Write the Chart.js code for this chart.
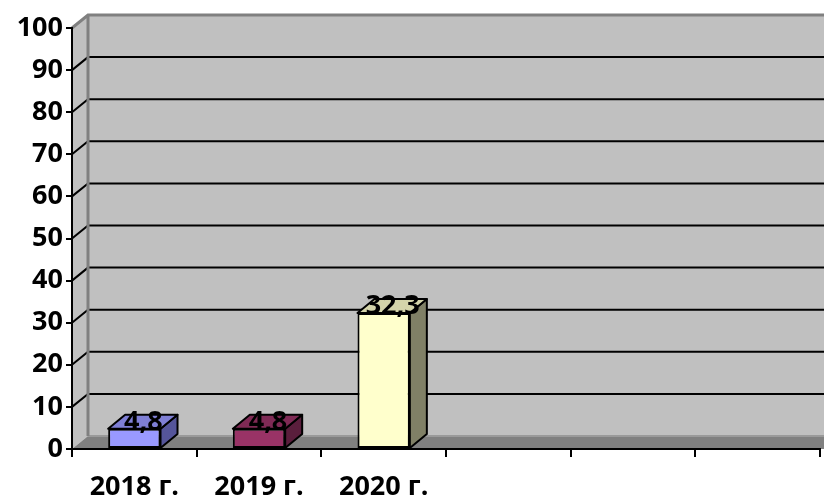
<!DOCTYPE html>
<html>
<head>
<meta charset="utf-8">
<script src="https://cdn.jsdelivr.net/npm/chart.js@4.4.0/dist/chart.umd.min.js"></script>
<style>
  html, body { margin: 0; padding: 0; background: #fff; }
  #wrap { width: 824px; height: 499px; }
</style>
</head>
<body>
<div id="wrap"><canvas id="chart" width="824" height="499"></canvas></div>
<script>
const categories = ['2018 г.', '2019 г.', '2020 г.', '', '', ''];
const values = [4.8, 4.8, 32.3, null, null, null];
const valueLabels = ['4,8', '4,8', '32,3'];
const yTicks = [0, 10, 20, 30, 40, 50, 60, 70, 80, 90, 100];

const frontColors = ['#9999ff', '#993366', '#ffffcc'];
const topColors = ['#7f7fd5', '#7f2a55', '#d4d4aa'];
const sideColors = ['#55559a', '#5a1e3c', '#808066'];

const FONT = '"Open Sans", sans-serif';
const WALL_DX = 16, WALL_DY = -13;
const BAR_DX = 17, BAR_DY = -14;

// walls, floor and back gridlines
const wallsPlugin = {
  id: 'walls',
  beforeDraw(chart) {
    const { ctx, chartArea: a, scales } = chart;
    const y = scales.y;
    const top = y.getPixelForValue(100), bottom = y.getPixelForValue(0);
    const right = a.right + WALL_DX + 20;
    ctx.save();
    // back wall
    ctx.fillStyle = '#c0c0c0';
    ctx.fillRect(a.left + WALL_DX, top + WALL_DY, right - a.left, bottom - top);
    // left side wall
    ctx.beginPath();
    ctx.moveTo(a.left, top);
    ctx.lineTo(a.left + WALL_DX, top + WALL_DY);
    ctx.lineTo(a.left + WALL_DX, bottom + WALL_DY);
    ctx.lineTo(a.left, bottom);
    ctx.closePath();
    ctx.fill();
    // floor
    ctx.fillStyle = '#808080';
    ctx.beginPath();
    ctx.moveTo(a.left, bottom);
    ctx.lineTo(a.left + WALL_DX, bottom + WALL_DY);
    ctx.lineTo(right, bottom + WALL_DY);
    ctx.lineTo(right, bottom);
    ctx.closePath();
    ctx.fill();
    ctx.strokeStyle = '#9a9a9a';
    ctx.lineWidth = 2;
    ctx.beginPath();
    ctx.moveTo(a.left + WALL_DX, bottom + WALL_DY);
    ctx.lineTo(right, bottom + WALL_DY);
    ctx.stroke();
    // gridlines
    ctx.strokeStyle = '#000';
    ctx.lineWidth = 2;
    yTicks.forEach(v => {
      if (v === 0 || v === 100) return;
      const p = y.getPixelForValue(v);
      ctx.beginPath();
      ctx.moveTo(a.left, p);
      ctx.lineTo(a.left + WALL_DX, p + WALL_DY);
      ctx.lineTo(right, p + WALL_DY);
      ctx.stroke();
    });
    // wall edges
    ctx.strokeStyle = '#808080';
    ctx.lineWidth = 3;
    ctx.beginPath();
    ctx.moveTo(a.left, top);
    ctx.lineTo(a.left + WALL_DX, top + WALL_DY);
    ctx.lineTo(right, top + WALL_DY);
    ctx.moveTo(a.left + WALL_DX, top + WALL_DY);
    ctx.lineTo(a.left + WALL_DX, bottom + WALL_DY);
    ctx.stroke();
    ctx.restore();
  }
};

// side and top faces of each bar plus value labels
const bar3dPlugin = {
  id: 'bar3d',
  afterDatasetsDraw(chart) {
    const { ctx } = chart;
    const meta = chart.getDatasetMeta(0);
    ctx.save();
    ctx.lineWidth = 2;
    ctx.strokeStyle = '#000';
    ctx.lineJoin = 'round';
    meta.data.forEach((bar, i) => {
      if (values[i] == null) return;
      const { x, y, base, width } = bar.getProps(['x', 'y', 'base', 'width'], true);
      const l = x - width / 2, r = x + width / 2;
      // side
      ctx.fillStyle = sideColors[i];
      ctx.beginPath();
      ctx.moveTo(r, y);
      ctx.lineTo(r + BAR_DX, y + BAR_DY);
      ctx.lineTo(r + BAR_DX, base + BAR_DY);
      ctx.lineTo(r, base);
      ctx.closePath();
      ctx.fill();
      ctx.stroke();
      // top
      ctx.fillStyle = topColors[i];
      ctx.beginPath();
      ctx.moveTo(l, y);
      ctx.lineTo(l + BAR_DX, y + BAR_DY);
      ctx.lineTo(r + BAR_DX, y + BAR_DY);
      ctx.lineTo(r, y);
      ctx.closePath();
      ctx.fill();
      ctx.stroke();
    });
    ctx.fillStyle = '#000';
    ctx.font = 'bold 27px ' + FONT;
    ctx.textAlign = 'center';
    ctx.textBaseline = 'alphabetic';
    meta.data.forEach((bar, i) => {
      if (values[i] == null) return;
      ctx.fillText(valueLabels[i], bar.x + 9, bar.y + 1);
    });
    ctx.restore();
  }
};

new Chart(document.getElementById('chart'), {
  type: 'bar',
  data: {
    labels: categories,
    datasets: [{
      data: values,
      backgroundColor: frontColors,
      borderColor: '#000',
      borderWidth: 2,
      borderSkipped: false,
      categoryPercentage: 1,
      barPercentage: 0.42
    }]
  },
  options: {
    responsive: false,
    animation: false,
    layout: { padding: { top: 28, right: 4, left: 0, bottom: 0 } },
    plugins: {
      legend: { display: false },
      tooltip: { enabled: false }
    },
    scales: {
      x: {
        grid: { drawOnChartArea: false, drawTicks: true, tickLength: 8, color: '#000', lineWidth: 2, offset: true },
        border: { display: true, color: '#000', width: 2 },
        ticks: { color: '#000', font: { family: FONT, size: 27, weight: 'bold' }, padding: 14, maxRotation: 0 },
        afterFit(s) { s.height = 50; }
      },
      y: {
        min: 0,
        max: 100,
        afterBuildTicks(s) { s.ticks = yTicks.map(v => ({ value: v })); },
        grid: { drawOnChartArea: false, drawTicks: true, tickLength: 6, color: '#000', lineWidth: 2 },
        border: { display: true, color: '#000', width: 2 },
        ticks: { color: '#000', font: { family: FONT, size: 27, weight: 'bold' }, padding: 3 },
        afterFit(s) { s.width = 72; }
      }
    }
  },
  plugins: [wallsPlugin, bar3dPlugin]
});
</script>
</body>
</html>
